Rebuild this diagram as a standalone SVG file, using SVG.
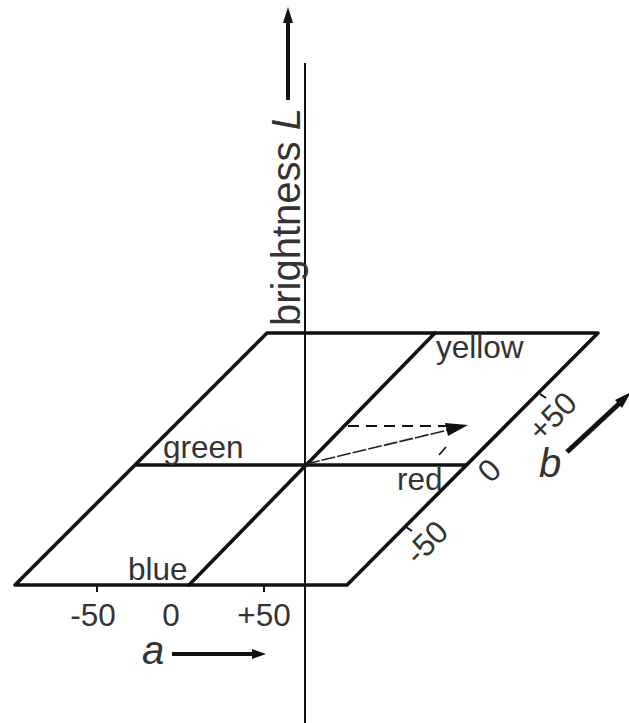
<svg xmlns="http://www.w3.org/2000/svg" width="629" height="723" viewBox="0 0 629 723">
<defs>
<style>
.t{font-family:"Liberation Sans",Arial,sans-serif;font-size:31.5px;fill:#333}
.ti{font-family:"Liberation Sans",Arial,sans-serif;font-size:40px;font-style:italic;fill:#333}
.thick{stroke:#111;stroke-width:3.6;fill:none;stroke-linejoin:round;stroke-linecap:round}
.tick{stroke:#111;stroke-width:2;fill:none}
</style>
</defs>
<rect width="629" height="723" fill="#fff"/>
<g id="plane">
<path class="thick" d="M15,585 L267,333 L598,333 L347,585 Z"/>
<line class="thick" x1="136" y1="465" x2="466" y2="465"/>
<line class="thick" x1="189" y1="585" x2="435" y2="333"/>
<line class="tick" x1="97" y1="585" x2="97" y2="592"/>
<line class="tick" x1="264" y1="585" x2="264" y2="592"/>
<line class="tick" x1="540" y1="394" x2="546" y2="398"/>
<line class="tick" x1="406" y1="527" x2="412" y2="531"/>
</g>
<g id="axis-L">
<line x1="305" y1="63" x2="305" y2="723" stroke="#111" stroke-width="2"/>
<line x1="288" y1="100" x2="288" y2="20" stroke="#111" stroke-width="4"/>
<path d="M288,7 L283,23 L293,23 Z" fill="#111"/>
<text class="t" transform="translate(300,326) rotate(-90)" style="font-size:40px">brightness <tspan style="font-style:italic">L</tspan></text>
</g>
<g id="axis-a">
<line x1="172" y1="654" x2="255" y2="654" stroke="#111" stroke-width="4"/>
<path d="M266,654 L252,649 L252,659 Z" fill="#111"/>
<text class="ti" x="142" y="664">a</text>
<text class="t" x="93" y="626" text-anchor="middle">-50</text>
<text class="t" x="171" y="626" text-anchor="middle">0</text>
<text class="t" x="264" y="626" text-anchor="middle">+50</text>
</g>
<g id="axis-b">
<line x1="567" y1="452" x2="622" y2="401" stroke="#111" stroke-width="5"/>
<path d="M631,392 L615,400 L622,408 Z" fill="#111"/>
<text class="ti" x="539" y="477">b</text>
<text class="t" transform="translate(490,471) rotate(-45)" text-anchor="middle" dy="10">0</text>
<text class="t" transform="translate(553,417) rotate(-45)" text-anchor="middle" dy="10">+50</text>
<text class="t" transform="translate(427,543) rotate(-45)" text-anchor="middle" dy="10">-50</text>
</g>
<g id="labels">
<text class="t" x="128" y="580">blue</text>
<text class="t" x="163" y="458">green</text>
<text class="t" x="436" y="358">yellow</text>
<text class="t" x="397" y="490">red</text>
</g>
<g id="connectors">
<line x1="348" y1="426" x2="450" y2="426" stroke="#111" stroke-width="2" stroke-dasharray="11,7"/>
<line x1="306" y1="464" x2="450" y2="429.5" stroke="#222" stroke-width="1.6" stroke-dasharray="14,2"/>
<path d="M468,425 L448,436 L445,423 Z" fill="#111"/>
<line x1="446" y1="447" x2="439" y2="455" stroke="#111" stroke-width="1.6"/>
</g>
</svg>
